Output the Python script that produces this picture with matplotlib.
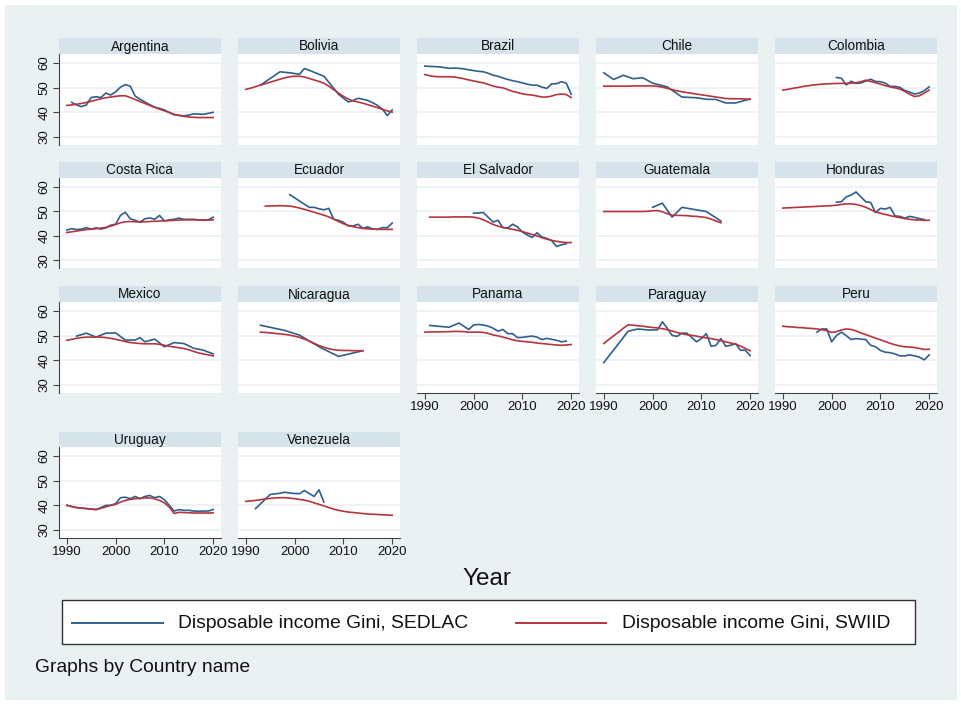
import matplotlib
matplotlib.use('Agg')
import matplotlib.pyplot as plt
from matplotlib.patches import Rectangle
from matplotlib.lines import Line2D

# ---------------- data ----------------
countries = ["Argentina", "Bolivia", "Brazil", "Chile", "Colombia",
             "Costa Rica", "Ecuador", "El Salvador", "Guatemala", "Honduras",
             "Mexico", "Nicaragua", "Panama", "Paraguay", "Peru",
             "Uruguay", "Venezuela"]

argentina_sedlac_years = list(range(1991, 2021))
argentina_sedlac = [44.0, 43.0, 42.3, 43.0, 46.0, 46.3, 46.0, 47.8, 47.0, 48.3, 50.2, 51.2, 50.6, 46.6, 45.3,
                    44.2, 43.1, 42.1, 41.6, 41.0, 39.9, 39.0, 38.8, 38.6, 38.9, 39.4, 39.3, 39.2, 39.6, 40.0]
argentina_swiid_start = 1990
argentina_swiid = [42.8, 43.0, 43.3, 43.6, 44.0, 44.5, 45.0, 45.5, 45.9, 46.2, 46.5, 46.7, 46.7, 46.0, 45.2, 44.4,
                   43.6, 42.8, 42.0, 41.3, 40.6, 40.0, 39.2, 38.7, 38.4, 38.1, 38.0, 37.9, 37.9, 37.9, 37.9]

bolivia_sedlac_years = [1993, 1997, 1999, 2000, 2001, 2002, 2003, 2004, 2005, 2006, 2007, 2008, 2009, 2011, 2012,
                        2013, 2014, 2015, 2016, 2017, 2018, 2019, 2020]
bolivia_sedlac = [51.0, 56.4, 56.0, 55.7, 55.4, 57.7, 57.0, 56.2, 55.4, 54.6, 52.2, 49.8, 47.3, 44.2, 44.8,
                  45.7, 45.3, 44.8, 43.9, 42.8, 41.3, 38.7, 41.0]
bolivia_swiid_start = 1990
bolivia_swiid = [49.3, 49.8, 50.4, 51.0, 51.6, 52.2, 52.8, 53.4, 54.0, 54.4, 54.6, 54.6, 54.3, 53.7, 53.1, 52.5,
                 51.8, 50.6, 49.2, 47.8, 46.5, 45.4, 44.6, 44.2, 43.7, 43.1, 42.5, 41.9, 41.2, 40.6, 40.1]

brazil_sedlac_years = [1990, 1992, 1993, 1995, 1996, 1997, 1998, 1999, 2001, 2002, 2003, 2004, 2005, 2006, 2007,
                       2008, 2009, 2011, 2012, 2013, 2014, 2015, 2016, 2017, 2018, 2019, 2020]
brazil_sedlac = [58.7, 58.5, 58.4, 57.8, 57.9, 57.8, 57.6, 57.2, 56.6, 56.4, 55.8, 55.0, 54.6, 53.9, 53.3,
                 52.8, 52.4, 51.4, 51.0, 51.0, 50.2, 49.7, 51.5, 51.6, 52.4, 51.8, 47.3]
brazil_swiid_start = 1990
brazil_swiid = [55.3, 54.8, 54.5, 54.4, 54.4, 54.4, 54.3, 54.0, 53.6, 53.1, 52.7, 52.3, 51.9, 51.3, 50.6, 50.2,
                49.9, 49.2, 48.5, 48.0, 47.5, 47.2, 47.0, 46.6, 46.2, 46.2, 46.6, 47.2, 47.4, 47.2, 46.0]

chile_sedlac_years = [1990, 1992, 1994, 1996, 1998, 2000, 2003, 2006, 2009, 2011, 2013, 2015, 2017, 2020]
chile_sedlac = [56.0, 53.3, 55.0, 53.6, 54.0, 51.8, 50.3, 46.2, 45.9, 45.3, 45.2, 43.8, 43.8, 45.4]
chile_swiid_start = 1990
chile_swiid = [50.6, 50.6, 50.6, 50.6, 50.6, 50.6, 50.7, 50.7, 50.7, 50.7, 50.7, 50.5, 50.2, 49.7, 49.2, 48.7,
               48.3, 48.0, 47.7, 47.4, 47.1, 46.8, 46.5, 46.2, 45.9, 45.6, 45.5, 45.5, 45.5, 45.4, 45.3]

colombia_sedlac_years = [2001, 2002, 2003, 2004, 2005, 2006, 2008, 2009, 2010, 2011, 2012, 2013, 2014, 2015,
                         2016, 2017, 2018, 2019, 2020]
colombia_sedlac = [54.1, 53.8, 51.1, 52.6, 51.7, 51.9, 53.4, 52.5, 52.4, 51.8, 50.5, 50.5, 50.1, 48.8,
                   48.2, 47.4, 47.8, 48.8, 50.3]
colombia_swiid_start = 1990
colombia_swiid = [49.0, 49.3, 49.7, 50.0, 50.4, 50.7, 51.0, 51.2, 51.4, 51.5, 51.6, 51.7, 51.7, 51.7, 51.8, 52.0,
                  52.4, 53.0, 52.5, 52.0, 51.4, 50.8, 50.3, 49.9, 49.4, 48.5, 47.3, 46.4, 46.7, 47.8, 49.0]

costa_rica_sedlac_years = list(range(1990, 2021))
costa_rica_sedlac = [42.3, 42.9, 42.5, 42.7, 43.3, 42.7, 43.2, 42.7, 43.2, 44.3, 44.7, 48.3, 49.6, 46.9, 46.3, 45.6,
                     46.9, 47.3, 46.7, 48.3, 46.0, 46.5, 46.7, 47.2, 46.7, 46.7, 46.7, 46.5, 46.3, 46.5, 47.6]
costa_rica_swiid_start = 1990
costa_rica_swiid = [41.3, 41.6, 41.9, 42.2, 42.5, 42.7, 42.9, 43.1, 43.4, 43.9, 44.6, 45.3, 45.7, 45.8, 45.7, 45.6,
                    45.7, 45.8, 45.9, 46.0, 46.1, 46.2, 46.3, 46.4, 46.5, 46.5, 46.5, 46.4, 46.4, 46.4, 46.5]

ecuador_sedlac_years = [1999, 2003, 2004, 2005, 2006, 2007, 2008, 2009, 2010, 2011, 2012, 2013, 2014, 2015, 2016,
                        2017, 2018, 2019, 2020]
ecuador_sedlac = [56.8, 51.6, 51.6, 51.0, 50.6, 51.2, 46.8, 46.3, 45.5, 44.0, 44.0, 44.7, 43.0, 43.6, 42.8,
                  42.6, 43.3, 43.3, 45.2]
ecuador_swiid_start = 1994
ecuador_swiid = [52.1, 52.2, 52.2, 52.3, 52.2, 52.1, 51.8, 51.3, 50.8, 50.2, 49.6, 49.0, 48.4, 47.7, 46.8, 45.8,
                 44.9, 44.2, 43.7, 43.3, 43.0, 42.8, 42.7, 42.6, 42.6, 42.6, 42.6]

el_salvador_sedlac_years = list(range(2000, 2020))
el_salvador_sedlac = [49.2, 49.3, 49.5, 47.5, 45.6, 46.3, 43.3, 43.2, 44.7, 43.6, 41.5, 40.3, 39.3, 41.2, 39.5,
                      38.9, 38.0, 35.6, 36.3, 36.7]
el_salvador_swiid_start = 1991
el_salvador_swiid = [47.6, 47.6, 47.6, 47.6, 47.6, 47.7, 47.7, 47.7, 47.7, 47.6, 47.2, 46.5, 45.6, 44.6, 43.9,
                     43.4, 43.0, 42.6, 42.2, 41.7, 41.1, 40.5, 39.9, 39.2, 38.6, 38.1, 37.7, 37.4, 37.2, 37.2]

guatemala_sedlac_years = [2000, 2002, 2004, 2006, 2011, 2014]
guatemala_sedlac = [51.6, 53.3, 47.6, 51.6, 49.9, 46.0]
guatemala_swiid_start = 1990
guatemala_swiid = [49.9, 49.9, 49.9, 49.9, 49.9, 49.9, 49.9, 49.9, 49.9, 50.0, 50.2, 50.3, 49.8, 49.0, 48.4,
                   48.3, 48.3, 48.2, 48.0, 47.9, 47.7, 47.4, 46.8, 46.0, 45.3]

honduras_sedlac_years = list(range(2001, 2020))
honduras_sedlac = [53.7, 53.9, 55.9, 56.6, 57.9, 55.9, 53.9, 53.6, 49.5, 51.2, 50.9, 51.6, 48.1, 47.9, 47.2,
                   47.9, 47.5, 47.0, 46.6]
honduras_swiid_start = 1990
honduras_swiid = [51.3, 51.4, 51.5, 51.6, 51.7, 51.8, 51.9, 52.0, 52.1, 52.2, 52.3, 52.5, 52.8, 53.0, 53.0, 52.8,
                  52.3, 51.6, 50.7, 49.7, 49.2, 48.7, 48.2, 47.8, 47.4, 47.0, 46.7, 46.5, 46.4, 46.3, 46.3]

mexico_sedlac_years = [1992, 1994, 1996, 1998, 2000, 2002, 2004, 2005, 2006, 2008, 2010, 2012, 2014, 2016, 2018, 2020]
mexico_sedlac = [49.8, 51.0, 49.4, 51.0, 51.1, 48.2, 48.2, 49.2, 47.5, 48.6, 45.5, 47.2, 46.8, 44.9, 44.1, 42.6]
mexico_swiid_start = 1990
mexico_swiid = [48.1, 48.5, 48.9, 49.2, 49.4, 49.4, 49.4, 49.4, 49.2, 48.9, 48.5, 48.1, 47.6, 47.2, 47.0, 46.8,
                46.7, 46.7, 46.7, 46.5, 46.1, 45.7, 45.4, 45.1, 44.8, 44.3, 43.6, 43.0, 42.6, 42.2, 41.8]

nicaragua_sedlac_years = [1993, 1998, 2001, 2005, 2009, 2014]
nicaragua_sedlac = [54.2, 52.1, 50.2, 45.5, 41.6, 43.9]
nicaragua_swiid_start = 1993
nicaragua_swiid = [51.4, 51.3, 51.1, 50.9, 50.7, 50.5, 50.2, 49.8, 49.3, 48.6, 47.8, 46.9, 46.0, 45.3, 44.7,
                   44.3, 44.1, 44.0, 44.0, 43.9, 43.9, 43.9]

panama_sedlac_years = [1991, 1995, 1997, 1999, 2000, 2001, 2002, 2003, 2004, 2005, 2006, 2007, 2008, 2009, 2010,
                       2011, 2012, 2013, 2014, 2015, 2016, 2017, 2018, 2019]
panama_sedlac = [54.1, 53.4, 55.1, 52.5, 54.3, 54.5, 54.3, 53.8, 53.0, 51.8, 52.5, 50.8, 50.8, 49.2, 49.3,
                 49.6, 49.8, 49.4, 48.4, 48.9, 48.5, 48.1, 47.5, 47.8]
panama_swiid_start = 1990
panama_swiid = [51.4, 51.5, 51.5, 51.5, 51.6, 51.6, 51.7, 51.7, 51.6, 51.4, 51.4, 51.4, 51.3, 50.9, 50.3, 49.9,
                49.4, 48.9, 48.3, 47.9, 47.7, 47.5, 47.3, 47.0, 46.8, 46.6, 46.4, 46.2, 46.1, 46.2, 46.4]

paraguay_sedlac_years = [1990, 1995, 1997, 1999, 2001, 2002, 2003, 2004, 2005, 2006, 2007, 2008, 2009, 2010, 2011,
                         2012, 2013, 2014, 2015, 2016, 2017, 2018, 2019, 2020]
paraguay_sedlac = [39.1, 51.8, 52.7, 52.3, 52.3, 55.6, 53.0, 50.1, 49.7, 51.0, 51.0, 49.3, 47.5, 48.8, 50.8,
                   45.7, 46.1, 48.8, 45.7, 46.1, 46.8, 44.1, 44.1, 41.9]
paraguay_swiid_start = 1990
paraguay_swiid = [46.8, 48.4, 49.9, 51.4, 53.0, 54.4, 54.2, 54.0, 53.8, 53.5, 53.3, 53.1, 52.8, 52.4, 51.9, 51.3,
                  50.8, 50.4, 50.1, 49.8, 49.4, 49.1, 48.8, 48.4, 48.0, 47.5, 47.0, 46.6, 45.8, 44.8, 43.9]

peru_sedlac_years = list(range(1997, 2021))
peru_sedlac = [51.4, 52.7, 52.7, 47.5, 50.0, 51.4, 50.0, 48.4, 48.8, 48.6, 48.4, 46.1, 45.5, 44.0, 43.3, 43.1,
               42.6, 41.8, 41.8, 42.2, 41.8, 41.3, 40.2, 42.2]
peru_swiid_start = 1990
peru_swiid = [53.8, 53.6, 53.5, 53.3, 53.2, 53.0, 52.9, 52.7, 52.4, 52.0, 51.3, 51.6, 52.3, 52.7, 52.5, 51.9,
              51.1, 50.4, 49.7, 49.0, 48.3, 47.6, 46.9, 46.3, 45.8, 45.5, 45.4, 45.2, 44.8, 44.4, 44.5]

uruguay_sedlac_years = [1990, 1992, 1995, 1996, 1997, 1998, 1999, 2000, 2001, 2002, 2003, 2004, 2005, 2006, 2007,
                        2008, 2009, 2010, 2011, 2012, 2013, 2014, 2015, 2016, 2017, 2018, 2019, 2020]
uruguay_sedlac = [40.0, 39.1, 38.5, 38.3, 39.1, 40.0, 40.0, 40.7, 43.1, 43.3, 42.7, 43.6, 42.7, 43.6, 44.0,
                  43.1, 43.6, 42.3, 40.0, 37.7, 38.3, 38.0, 38.0, 37.7, 37.6, 37.7, 37.7, 38.3]
uruguay_swiid_start = 1990
uruguay_swiid = [40.0, 39.5, 39.1, 38.9, 38.7, 38.5, 38.3, 38.8, 39.4, 40.0, 40.4, 41.3, 42.0, 42.4, 42.7, 42.8,
                 43.0, 43.0, 42.7, 42.0, 41.0, 39.3, 36.7, 37.2, 37.1, 37.0, 36.9, 36.9, 36.9, 36.9, 37.0]

venezuela_sedlac_years = [1992, 1995, 1997, 1998, 1999, 2000, 2001, 2002, 2003, 2004, 2005, 2006]
venezuela_sedlac = [38.7, 44.4, 44.9, 45.3, 45.0, 44.8, 44.7, 46.0, 44.8, 43.6, 46.3, 41.3]
venezuela_swiid_start = 1990
venezuela_swiid = [41.6, 41.8, 42.0, 42.3, 42.6, 42.8, 43.0, 43.1, 43.1, 42.9, 42.7, 42.4, 42.1, 41.7, 41.0, 40.4,
                   39.8, 39.1, 38.5, 38.0, 37.6, 37.3, 37.1, 36.9, 36.7, 36.5, 36.4, 36.3, 36.2, 36.1, 36.0]

y_ticks = [30, 40, 50, 60]
x_ticks = [1990, 2000, 2010, 2020]
legend_labels = ["Disposable income Gini, SEDLAC", "Disposable income Gini, SWIID"]
x_title = "Year"
note_text = "Graphs by Country name"

series = {
    "Argentina": (argentina_sedlac_years, argentina_sedlac, argentina_swiid_start, argentina_swiid),
    "Bolivia": (bolivia_sedlac_years, bolivia_sedlac, bolivia_swiid_start, bolivia_swiid),
    "Brazil": (brazil_sedlac_years, brazil_sedlac, brazil_swiid_start, brazil_swiid),
    "Chile": (chile_sedlac_years, chile_sedlac, chile_swiid_start, chile_swiid),
    "Colombia": (colombia_sedlac_years, colombia_sedlac, colombia_swiid_start, colombia_swiid),
    "Costa Rica": (costa_rica_sedlac_years, costa_rica_sedlac, costa_rica_swiid_start, costa_rica_swiid),
    "Ecuador": (ecuador_sedlac_years, ecuador_sedlac, ecuador_swiid_start, ecuador_swiid),
    "El Salvador": (el_salvador_sedlac_years, el_salvador_sedlac, el_salvador_swiid_start, el_salvador_swiid),
    "Guatemala": (guatemala_sedlac_years, guatemala_sedlac, guatemala_swiid_start, guatemala_swiid),
    "Honduras": (honduras_sedlac_years, honduras_sedlac, honduras_swiid_start, honduras_swiid),
    "Mexico": (mexico_sedlac_years, mexico_sedlac, mexico_swiid_start, mexico_swiid),
    "Nicaragua": (nicaragua_sedlac_years, nicaragua_sedlac, nicaragua_swiid_start, nicaragua_swiid),
    "Panama": (panama_sedlac_years, panama_sedlac, panama_swiid_start, panama_swiid),
    "Paraguay": (paraguay_sedlac_years, paraguay_sedlac, paraguay_swiid_start, paraguay_swiid),
    "Peru": (peru_sedlac_years, peru_sedlac, peru_swiid_start, peru_swiid),
    "Uruguay": (uruguay_sedlac_years, uruguay_sedlac, uruguay_swiid_start, uruguay_swiid),
    "Venezuela": (venezuela_sedlac_years, venezuela_sedlac, venezuela_swiid_start, venezuela_swiid),
}

# ---------------- style ----------------
plt.rcParams['font.family'] = ['Liberation Sans', 'DejaVu Sans']
BLUE = '#2D5F8E'
RED = '#B5343E'
BG = '#EAF1F3'
STRIP = '#D6E3EA'
GRID = '#EAF1F3'
AXC = '#444444'
TXT = '#111111'

W, H = 962, 704
fig = plt.figure(figsize=(W / 100, H / 100), dpi=100)
fig.patch.set_facecolor('white')


def fx(px):
    return px / W


def fy(py):
    return 1 - py / H


fig.add_artist(Rectangle((fx(5), fy(700)), 952 / W, 695 / H, transform=fig.transFigure,
                         facecolor=BG, edgecolor='none', zorder=0))

col_left = [59, 238, 417, 596, 775]
panel_w = 162
rows = [(38, 54, 145), (162, 178, 268), (286, 302, 393), (432, 447, 538)]
n = len(countries)

for i, name in enumerate(countries):
    r, c = divmod(i, 5)
    htop, ptop, pbot = rows[r]
    left = col_left[c]
    ax = fig.add_axes([fx(left), fy(pbot), panel_w / W, (pbot - ptop) / H])
    ax.set_facecolor('white')
    # strip
    fig.add_artist(Rectangle((fx(left), fy(ptop)), panel_w / W, (ptop - htop) / H,
                             transform=fig.transFigure, facecolor=STRIP, edgecolor='none', zorder=1))
    fig.text(fx(left + panel_w / 2), fy((htop + ptop) / 2 + 0.5), name, ha='center', va='center',
             fontsize=9.8, color=TXT)

    sy, sv, s0, wv = series[name]
    wy = list(range(s0, s0 + len(wv)))
    ax.plot(sy, sv, color=BLUE, lw=1.2, zorder=3, solid_joinstyle='round')
    ax.plot(wy, wv, color=RED, lw=1.2, zorder=3, solid_joinstyle='round')

    ax.set_xlim(1988.4, 2021.6)
    ax.set_ylim(26.8, 63.6)
    ax.set_yticks(y_ticks)
    ax.set_xticks(x_ticks)
    ax.yaxis.grid(True, color=GRID, lw=1.2)
    ax.set_axisbelow(True)
    for s in ax.spines.values():
        s.set_visible(False)

    show_y = (c == 0)
    show_x = (i + 5 >= n)
    if show_y:
        ax.spines['left'].set_visible(True)
        ax.spines['left'].set_color(AXC)
        ax.spines['left'].set_linewidth(0.8)
        ax.tick_params(axis='y', length=4, width=0.8, color=AXC, labelsize=9.5, labelcolor=TXT, pad=2)
        for lab in ax.get_yticklabels():
            lab.set_rotation(90)
            lab.set_va('center')
    else:
        ax.tick_params(axis='y', left=False, labelleft=False)
    if show_x:
        ax.spines['bottom'].set_visible(True)
        ax.spines['bottom'].set_color(AXC)
        ax.spines['bottom'].set_linewidth(0.8)
        ax.tick_params(axis='x', length=4, width=0.8, color=AXC, labelsize=9.5, labelcolor=TXT, pad=2)
    else:
        ax.tick_params(axis='x', bottom=False, labelbottom=False)

# x title
fig.text(fx(487), fy(579), x_title, ha='center', va='center', fontsize=17.5, color=TXT)

# legend box
fig.add_artist(Rectangle((fx(62), fy(644)), (915 - 62) / W, 44 / H, transform=fig.transFigure,
                         facecolor='white', edgecolor='#333333', lw=1.0, zorder=2))
ly = fy(623)
fig.add_artist(Line2D([fx(72), fx(163)], [ly, ly], transform=fig.transFigure, color=BLUE, lw=1.4, zorder=3))
fig.text(fx(178), ly, legend_labels[0], ha='left', va='center', fontsize=13.9, color=TXT, zorder=3)
fig.add_artist(Line2D([fx(516), fx(606)], [ly, ly], transform=fig.transFigure, color=RED, lw=1.4, zorder=3))
fig.text(fx(622), ly, legend_labels[1], ha='left', va='center', fontsize=13.9, color=TXT, zorder=3)

fig.text(fx(35), fy(667), note_text, ha='left', va='center', fontsize=13.9, color=TXT)

fig.savefig('out.png', dpi=100, facecolor=fig.get_facecolor())
